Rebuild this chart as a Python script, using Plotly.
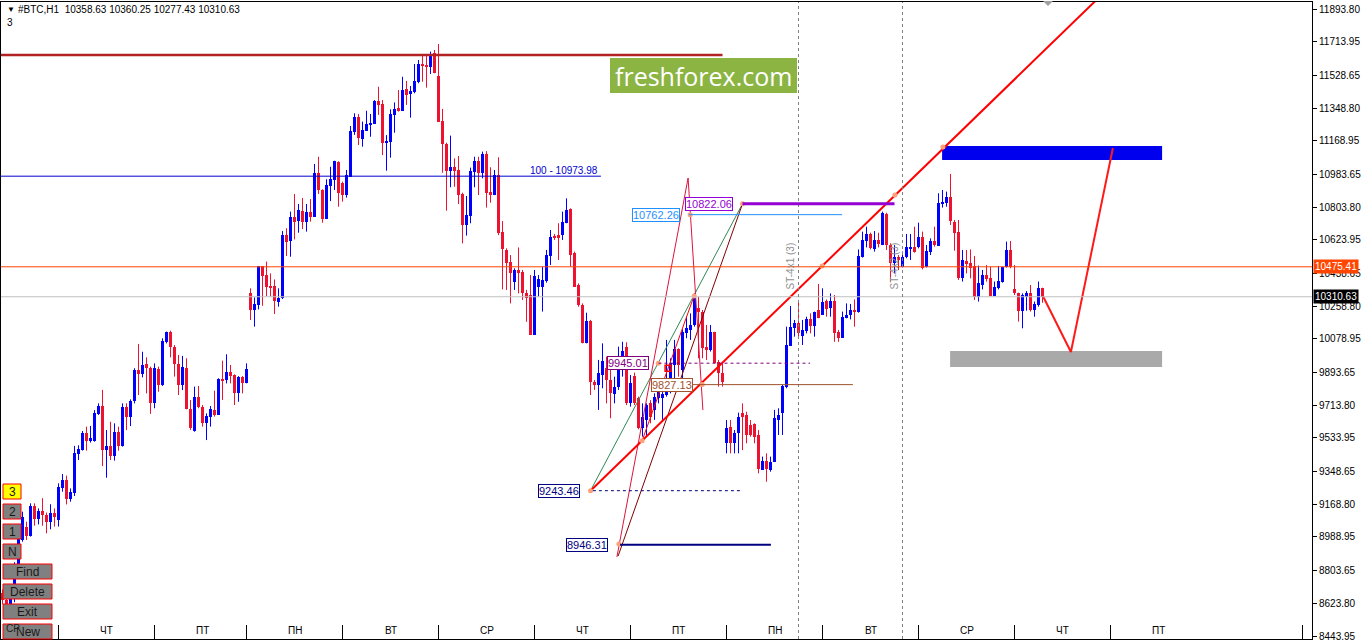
import plotly.graph_objects as go

# H1 candles, oldest first (index = bar number on the chart)
opens = [8680, 8640, 8615, 8650, 8830, 8972, 9042, 8994, 9159, 9088,
         9134, 9110, 9073, 9123, 9082, 9257, 9302, 9196, 9229, 9444,
         9467, 9563, 9519, 9519, 9665, 9709, 9467, 9489, 9434, 9566,
         9489, 9702, 9651, 9735, 9908, 9886, 9941, 9917, 9724, 9915,
         9825, 10063, 10117, 10032, 9941, 9825, 9917, 9691, 9574, 9757,
         9706, 9614, 9651, 9687, 9660, 9856, 9852, 9895, 9880, 9779,
         9871, 9834, 10329, 10238, 10265, 10480, 10430, 10370, 10370, 10283,
         10302, 10650, 10617, 10749, 10727, 10782, 10724, 10777, 10751, 10990,
         10898, 10738, 10922, 10953, 11050, 10935, 10870, 10971, 11219, 11298,
         11179, 11224, 11256, 11261, 11388, 11371, 11158, 11164, 11311, 11347,
         11334, 11454, 11424, 11439, 11494, 11591, 11586, 11573, 11650, 11525,
         11278, 11151, 11004, 11026, 11008, 10876, 10705, 10757, 10999, 11057,
         10990, 11096, 10887, 10870, 10980, 10667, 10568, 10504, 10390, 10458,
         10449, 10329, 10320, 10100, 10366, 10366, 10399, 10537, 10645, 10650,
         10650, 10715, 10793, 10550, 10375, 10265, 10054, 10177, 9843, 9825,
         9880, 9917, 9853, 9776, 9816, 9972, 10036, 9724, 9874, 9752,
         9587, 9632, 9724, 9688, 9752, 9752, 9770, 9834, 9935, 10021,
         9908, 10109, 10128, 10155, 10247, 10229, 10036, 10018, 10118, 9953,
         9889, 9504, 9596, 9508, 9559, 9669, 9660, 9605, 9610, 9550,
         9357, 9409, 9357, 9403, 9632, 9669, 9816, 10041, 10137, 10164,
         10096, 10124, 10186, 10151, 10238, 10210, 10287, 10247, 10287, 10118,
         10086, 10196, 10210, 10238, 10229, 10531, 10617, 10654, 10571, 10623,
         10595, 10766, 10595, 10494, 10531, 10476, 10531, 10571, 10582, 10582,
         10641, 10476, 10559, 10619, 10590, 10821, 10825, 10861, 10724, 10669,
         10412, 10507, 10494, 10480, 10311, 10375, 10430, 10412, 10317, 10361,
         10394, 10472, 10568, 10351, 10329, 10234, 10307, 10333, 10238, 10265,
         10358.63]
highs = [8700, 8665, 8660, 8850, 9010, 9128, 9073, 9174, 9174, 9146,
         9202, 9123, 9169, 9146, 9284, 9335, 9326, 9256, 9490, 9493,
         9572, 9596, 9600, 9687, 9724, 9798, 9577, 9623, 9614, 9596,
         9724, 9724, 9746, 9917, 10051, 10008, 9977, 9926, 9944, 9926,
         10082, 10119, 10124, 10045, 9990, 9985, 9972, 9742, 9816, 9820,
         9715, 9669, 9709, 9794, 9862, 9959, 9994, 9935, 9884, 9874,
         9874, 9944, 10357, 10307, 10480, 10480, 10504, 10439, 10406, 10357,
         10672, 10687, 10779, 10876, 10821, 10854, 10821, 10848, 11041, 11081,
         10902, 10957, 11026, 11059, 11056, 10944, 11008, 11250, 11320, 11316,
         11274, 11334, 11316, 11393, 11466, 11393, 11200, 11342, 11380, 11448,
         11521, 11498, 11470, 11591, 11613, 11641, 11641, 11659, 11668, 11701,
         11344, 11158, 11197, 11072, 11085, 10883, 10865, 11021, 11081, 11081,
         11109, 11112, 11023, 11008, 11078, 10727, 10577, 10540, 10467, 10582,
         10458, 10348, 10430, 10458, 10430, 10476, 10568, 10678, 10656, 10715,
         10779, 10852, 10797, 10559, 10384, 10274, 10223, 10183, 9853, 9963,
         10054, 9981, 9908, 9871, 10036, 10063, 10060, 9880, 9893, 9761,
         9724, 9724, 9742, 9779, 9834, 9816, 10073, 9972, 10073, 10027,
         10131, 10201, 10219, 10329, 10311, 10238, 10155, 10155, 10118, 9963,
         9944, 9632, 9632, 9577, 9673, 9724, 9678, 9632, 9614, 9577,
         9431, 9449, 9431, 9688, 9697, 9825, 10146, 10260, 10183, 10293,
         10183, 10201, 10219, 10229, 10381, 10357, 10296, 10329, 10320, 10128,
         10229, 10274, 10271, 10296, 10571, 10669, 10696, 10663, 10672, 10663,
         10779, 10773, 10605, 10595, 10540, 10559, 10656, 10656, 10696, 10718,
         10669, 10595, 10632, 10696, 10880, 10898, 10889, 10986, 10733, 10733,
         10568, 10568, 10571, 10535, 10482, 10458, 10485, 10476, 10394, 10480,
         10476, 10614, 10617, 10485, 10333, 10329, 10342, 10375, 10284, 10394,
         10360.25]
lows = [8620, 8600, 8590, 8630, 8820, 8963, 8972, 8991, 9051, 9058,
        9051, 9009, 9031, 9046, 9046, 9238, 9168, 9183, 9214, 9412,
        9464, 9464, 9508, 9513, 9660, 9379, 9315, 9412, 9409, 9464,
        9486, 9577, 9599, 9724, 9770, 9867, 9779, 9666, 9697, 9788,
        9820, 10054, 9977, 9871, 9770, 9797, 9691, 9578, 9568, 9697,
        9596, 9522, 9596, 9651, 9660, 9743, 9834, 9834, 9715, 9733,
        9779, 9834, 10183, 10146, 10241, 10261, 10315, 10311, 10216, 10256,
        10298, 10535, 10531, 10626, 10663, 10683, 10669, 10724, 10751, 10876,
        10718, 10738, 10837, 10898, 10806, 10834, 10856, 10971, 11201, 11145,
        11136, 11224, 11191, 11261, 11311, 11090, 11004, 11076, 11213, 11329,
        11334, 11366, 11296, 11430, 11485, 11494, 11461, 11536, 11540, 11274,
        10993, 10784, 10913, 10916, 10821, 10604, 10647, 10715, 10913, 10870,
        10962, 10801, 10828, 10870, 10650, 10351, 10348, 10274, 10348, 10329,
        10293, 10173, 10100, 10100, 10311, 10229, 10388, 10485, 10623, 10513,
        10623, 10715, 10476, 10366, 10256, 10054, 10054, 9770, 9798, 9688,
        9807, 9724, 9642, 9724, 9798, 9871, 9715, 9706, 9715, 9581,
        9541, 9541, 9614, 9633, 9724, 9633, 9761, 9779, 9853, 9871,
        9853, 10082, 10073, 10146, 9972, 9972, 9963, 10009, 9944, 9816,
        9816, 9449, 9449, 9449, 9449, 9467, 9504, 9541, 9504, 9339,
        9357, 9293, 9348, 9403, 9550, 9550, 9807, 10041, 10091, 10082,
        10045, 10109, 10109, 10091, 10192, 10210, 10201, 10201, 10063, 10063,
        10086, 10192, 10186, 10146, 10223, 10526, 10582, 10571, 10559, 10582,
        10595, 10568, 10394, 10439, 10458, 10472, 10522, 10513, 10553, 10577,
        10461, 10472, 10540, 10586, 10590, 10801, 10806, 10705, 10564, 10403,
        10394, 10439, 10412, 10293, 10284, 10351, 10394, 10315, 10315, 10351,
        10388, 10471, 10467, 10320, 10174, 10137, 10234, 10229, 10201, 10256,
        10277.43]
closes = [8640, 8615, 8650, 8830, 8990, 9100, 8994, 9159, 9088, 9134,
          9110, 9073, 9123, 9097, 9266, 9302, 9196, 9238, 9449, 9471,
          9563, 9519, 9532, 9673, 9709, 9467, 9489, 9434, 9566, 9489,
          9702, 9651, 9735, 9908, 9886, 9935, 9917, 9724, 9919, 9825,
          10069, 10115, 10032, 9941, 9825, 9922, 9691, 9587, 9757, 9706,
          9614, 9654, 9691, 9660, 9856, 9849, 9895, 9875, 9779, 9871,
          9838, 9911, 10238, 10271, 10480, 10425, 10366, 10362, 10289, 10302,
          10650, 10614, 10749, 10724, 10786, 10724, 10777, 10751, 10990, 10898,
          10738, 10925, 10957, 11056, 10880, 10870, 10980, 11222, 11298, 11186,
          11228, 11261, 11268, 11388, 11366, 11158, 11169, 11316, 11344, 11333,
          11448, 11421, 11444, 11498, 11591, 11582, 11573, 11641, 11540, 11274,
          11151, 11004, 11026, 11004, 10870, 10705, 10760, 11002, 11057, 10990,
          11096, 10883, 10870, 10980, 10663, 10571, 10498, 10439, 10458, 10439,
          10329, 10302, 10100, 10427, 10408, 10403, 10540, 10641, 10632, 10632,
          10724, 10788, 10540, 10366, 10265, 10054, 10177, 9843, 9825, 9889,
          9959, 9853, 9779, 9816, 9981, 10014, 9724, 9834, 9724, 9587,
          9651, 9715, 9651, 9761, 9816, 9776, 9853, 9944, 10021, 9935,
          10118, 10137, 10155, 10302, 10229, 10027, 10018, 10118, 9944, 9889,
          9843, 9587, 9504, 9559, 9651, 9651, 9550, 9550, 9541, 9361,
          9409, 9361, 9403, 9642, 9660, 9820, 10045, 10146, 10164, 10109,
          10128, 10186, 10151, 10225, 10196, 10280, 10241, 10287, 10113, 10086,
          10201, 10212, 10238, 10232, 10535, 10623, 10654, 10577, 10623, 10601,
          10773, 10595, 10494, 10531, 10513, 10531, 10582, 10582, 10559, 10641,
          10467, 10564, 10619, 10595, 10828, 10828, 10861, 10729, 10663, 10412,
          10513, 10491, 10467, 10311, 10384, 10430, 10408, 10317, 10366, 10397,
          10472, 10568, 10472, 10329, 10234, 10320, 10333, 10238, 10271, 10357,
          10310.63]

# time scale: bar index where each day starts, and its name
day_starts = [14, 38, 61, 85, 109, 133, 157, 181, 205, 229, 253, 277, 325]
day_names = ["ЧТ", "ПТ", "ПН", "ВТ", "СР", "ЧТ", "ПТ", "ПН", "ВТ", "СР", "ЧТ", "ПТ"]

price_ticks = [11893.80, 11713.95, 11528.65, 11348.80, 11168.95, 10983.65,
               10803.80, 10623.95, 10438.65, 10258.80, 10078.95, 9893.65,
               9713.80, 9533.95, 9348.65, 9168.80, 8988.95, 8803.65,
               8623.80, 8443.95]

ask_price = 10475.41
bid_price = 10310.63
fib_100 = 10973.98
top_level = 11640.7

# ST levels: price, bar from, bar to, label centre bar
st_prices = [10822.06, 10762.26, 9945.01, 9827.13, 9243.46, 8946.31]
st_from = [185, 171.6, 164, 172.4, 147.6, 154.4]
st_to = [223, 209.9, 201.9, 212.6, 184.9, 192.1]
st_label_at = [176.5, 163.45, 156.25, 167.25, 139.1, 146.1]
st_colors = ["#9400D3", "#1E90FF", "#800080", "#A0522D", "#000080", "#000080"]
st_dash = ["solid", "solid", "3px,3px", "solid", "3px,3px", "solid"]
st_width = [3, 1, 1, 1, 1, 2]

# trend ray and the projected path
trend_x = [147, 273.5]
trend_y = [9243.46, 11944]
proj_x = [260.1, 267.1, 277.6]
proj_y = [10314.7, 10006.7, 11129]

BULL = "#0000FF"
BEAR = "#EC1230"
FONT = "Liberation Sans, Arial, sans-serif"

W, H = 1363, 640
ML, MR, MT, MB = 1, 51, 2, 1


def px(x):
    return (x - ML) / (W - ML - MR)


def py(y):
    return (H - MB - y) / (H - MT - MB)


def note(x, y, text, size=10, color="black", xanchor="center", **kw):
    return dict(x=x, y=y, text=text, showarrow=False, xanchor=xanchor, yanchor="middle",
                font=dict(family=kw.pop("family", FONT), size=size, color=color), **kw)


n = len(closes)
bars = list(range(n))

fig = go.Figure()

# candle wicks
for up, col in [(True, BULL), (False, BEAR)]:
    wx, wy = [], []
    for k in bars:
        if (closes[k] >= opens[k]) == up:
            wx += [k, k, None]
            wy += [lows[k], highs[k], None]
    fig.add_trace(go.Scatter(x=wx, y=wy, mode="lines", line=dict(color=col, width=1),
                             hoverinfo="skip", showlegend=False))

# candle bodies
for up, col in [(True, BULL), (False, BEAR)]:
    ks = [k for k in bars if (closes[k] >= opens[k]) == up]
    fig.add_trace(go.Bar(
        x=ks,
        y=[max(abs(closes[k] - opens[k]), 5.5) for k in ks],
        base=[min(opens[k], closes[k]) for k in ks],
        width=0.75, marker=dict(color=col, line=dict(width=0)),
        hoverinfo="skip", showlegend=False))

shapes = []
annotations = []

# horizontal lines
shapes.append(dict(type="line", xref="x", yref="y", x0=-1, x1=180, y0=top_level, y1=top_level,
                   line=dict(color="#B22222", width=2.5)))
shapes.append(dict(type="line", xref="x", yref="y", x0=-1, x1=149.6, y0=fib_100, y1=fib_100,
                   line=dict(color="#0000CD", width=1)))
annotations.append(note(149.4, fib_100 + 30, "100 - 10973.98", color="#0000CD",
                        xanchor="right", xref="x", yref="y"))
shapes.append(dict(type="line", xref="paper", yref="y", x0=0, x1=1, y0=ask_price, y1=ask_price,
                   line=dict(color="#FF4500", width=1)))
shapes.append(dict(type="line", xref="paper", yref="y", x0=0, x1=1, y0=bid_price, y1=bid_price,
                   line=dict(color="#C0C0C0", width=1)))

# zones
shapes.append(dict(type="rect", xref="x", yref="y", x0=234.9, x1=289.9, y0=11063, y1=11140,
                   fillcolor="#0000EE", line=dict(width=0), layer="below"))
shapes.append(dict(type="rect", xref="x", yref="y", x0=236.9, x1=289.9, y0=9924, y1=10012,
                   fillcolor="#A9A9A9", line=dict(width=0), layer="below"))

# vertical ST markers
for vx, name in [(199, "ST-4x1 (3)"), (225, "ST-4x2 (3)")]:
    shapes.append(dict(type="line", xref="x", yref="paper", x0=vx, x1=vx, y0=0, y1=1,
                       line=dict(color="#808080", width=1, dash="3px,3px")))
    annotations.append(note(vx - 2, 10480, name, color="#909090", textangle=-90,
                            xref="x", yref="y"))

# fan lines from the anchors
fan = [
    ([147, 185], [9243.46, 10822.06], "#2E8B57"),
    ([153.9, 185], [8884, 10822.06], "#800000"),
    ([153.6, 171.4, 175.1], [8879, 10964, 9687], "#DC143C"),
    ([159.9, 172.9], [9518.5, 10315], "#FF0000"),
]
for fx, fy, col in fan:
    fig.add_trace(go.Scatter(x=fx, y=fy, mode="lines", line=dict(color=col, width=1),
                             hoverinfo="skip", showlegend=False))

# ST levels with price boxes
for p, a, b, lab, col, dash, lw in zip(st_prices, st_from, st_to, st_label_at,
                                        st_colors, st_dash, st_width):
    shapes.append(dict(type="line", xref="x", yref="y", x0=a, x1=b, y0=p, y1=p,
                       line=dict(color=col, width=lw, dash=dash)))
    annotations.append(note(lab, p, f"{p:.2f}", size=11, color=col, xref="x", yref="y",
                            bgcolor="white", bordercolor=col, borderwidth=1, borderpad=0))

# trend ray and projection
fig.add_trace(go.Scatter(x=trend_x, y=trend_y, mode="lines", line=dict(color="#FF0000", width=2),
                         hoverinfo="skip", showlegend=False))
fig.add_trace(go.Scatter(x=proj_x, y=proj_y, mode="lines", line=dict(color="#FF1A1A", width=2),
                         hoverinfo="skip", showlegend=False))

# anchor dots
dot_x = [147, 159.9, 154.1, 171.9, 185, 163.95, 174.95, 172.9, 204.9, 223.1, 235.1]
dot_y = [9243.46, 9518.5, 8950, 10762.26, 10822.06, 9945.01, 9827.13, 10315, 10480, 10870, 11134]
fig.add_trace(go.Scatter(x=dot_x, y=dot_y, mode="markers",
                         marker=dict(color="#FFA07A", size=5), hoverinfo="skip", showlegend=False))
fig.add_trace(go.Scatter(x=[166.4], y=[9917], mode="markers",
                         marker=dict(symbol="square-open", color="#FF0000", size=6,
                                     line=dict(width=1.5)),
                         hoverinfo="skip", showlegend=False))

# watermark
shapes.append(dict(type="rect", xref="paper", yref="paper", x0=px(610), x1=px(797),
                   y0=py(93), y1=py(58), fillcolor="#8BB443", line=dict(width=0)))
annotations.append(note(px(703.5), py(75.5), "freshforex.com", size=25, color="white",
                        family="Open Sans", xref="paper", yref="paper"))

# header
annotations.append(note(px(5), py(10), "▼", size=8, xanchor="left", xref="paper", yref="paper"))
annotations.append(note(px(16), py(10), "#BTC,H1\u00a0\u00a010358.63 10360.25 10277.43 10310.63",
                        xanchor="left", xref="paper", yref="paper"))
annotations.append(note(px(5), py(23), "3", xanchor="left", xref="paper", yref="paper"))

# shift marker
shapes.append(dict(type="path", xref="paper", yref="paper",
                   path=f"M {px(1043)},{py(1)} L {px(1053)},{py(1)} L {px(1048)},{py(6)} Z",
                   fillcolor="#A0A0A0", line=dict(width=0)))

# time scale
for d in day_starts:
    shapes.append(dict(type="line", xref="x", yref="paper", x0=d, x1=d, y0=0, y1=py(625),
                       line=dict(color="black", width=1)))
for d, name in zip(day_starts, day_names):
    annotations.append(note(d + 12, py(630), name, xref="x", yref="paper"))

# panel buttons
buttons = [("3", 3, 484, 21, 499, "#FFFF00"), ("2", 3, 504, 21, 519, "#808080"),
           ("1", 3, 524, 21, 539, "#808080"), ("N", 3, 544, 21, 559, "#808080"),
           ("Find", 3, 564, 52, 579, "#808080"), ("Delete", 3, 584, 52, 599, "#808080"),
           ("Exit", 3, 604, 52, 619, "#808080"), ("New", 3, 624, 52, 639, "#808080")]
for text, x0, y0, x1, y1, fill in buttons:
    shapes.append(dict(type="rect", xref="paper", yref="paper", x0=px(x0), x1=px(x1),
                       y0=py(y1), y1=py(y0), fillcolor=fill, line=dict(color="#FF0000", width=1)))
    annotations.append(note(px((x0 + x1) / 2), py((y0 + y1) / 2 + 0.5), text, size=12,
                            color="#1A1A1A", xref="paper", yref="paper"))
annotations.append(note(px(4), py(628), "СР", xanchor="left", color="#202020",
                        xref="paper", yref="paper"))

# price tags on the scale
for p, bg in [(ask_price, "#FF4500"), (bid_price, "#000000")]:
    annotations.append(note(1, p, f"{p:.2f}", color="white", xanchor="left", xshift=1,
                            bgcolor=bg, borderpad=1, xref="paper", yref="y"))

fig.update_layout(
    width=W, height=H,
    margin=dict(l=ML, r=MR, t=MT, b=MB, autoexpand=False),
    paper_bgcolor="white", plot_bgcolor="white",
    barmode="overlay", bargap=0,
    showlegend=False, hovermode=False,
    shapes=shapes, annotations=annotations,
    xaxis=dict(range=[-0.375, 327.375], showgrid=False, zeroline=False, showticklabels=False,
               ticks="", showline=True, linecolor="black", linewidth=1, mirror=True,
               fixedrange=True, automargin=False),
    yaxis=dict(range=[8427.5, 11932.3], side="right", showgrid=False, zeroline=False,
               tickvals=price_ticks, ticktext=[f"{v:.2f}" for v in price_ticks],
               ticks="outside", ticklen=4, tickcolor="black", ticklabeloverflow="allow",
               tickfont=dict(family=FONT, size=10, color="black"), automargin=False,
               showline=True, linecolor="black", linewidth=1, mirror=True, fixedrange=True),
)

fig.write_html("out.html", config={"displayModeBar": False},
               post_script="document.body.style.margin='0';")
